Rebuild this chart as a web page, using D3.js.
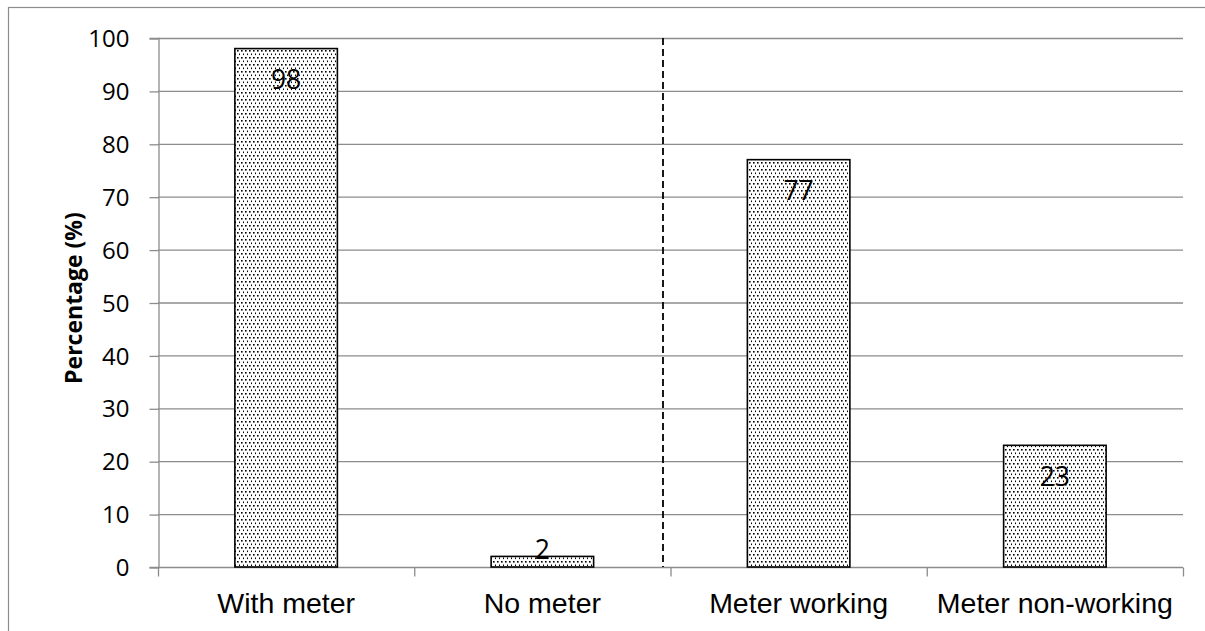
<!DOCTYPE html>
<html>
<head>
<meta charset="utf-8">
<script src="https://cdn.jsdelivr.net/npm/d3@7"></script>
<style>
  html, body { margin: 0; padding: 0; background: #fff; }
  svg { display: block; }
</style>
</head>
<body>
<svg id="chart" width="1205" height="631"></svg>
<script>
// Meter status of surveyed households
const categories = ["With meter", "No meter", "Meter working", "Meter non-working"];
const percentages = [98, 2, 77, 23];
const yTicks = [0, 10, 20, 30, 40, 50, 60, 70, 80, 90, 100];

const W = 1205, H = 631;
const margin = { left: 158, right: 22, top: 38, bottom: 64 };
const svg = d3.select("#chart");

// Outer frame
svg.append("rect")
  .attr("x", 8.5).attr("y", 7.5)
  .attr("width", W + 10).attr("height", H + 10)
  .attr("fill", "none").attr("stroke", "#8c8c8c").attr("stroke-width", 1.2);

const x = d3.scaleBand()
  .domain(categories)
  .range([margin.left, W - margin.right])
  .paddingInner(0.6).paddingOuter(0.3);

const y = d3.scaleLinear()
  .domain([0, 100])
  .range([H - margin.bottom, margin.top]);

// Dotted fill pattern
const defs = svg.append("defs");
const pat = defs.append("pattern")
  .attr("id", "dots").attr("patternUnits", "userSpaceOnUse")
  .attr("width", 4).attr("height", 7);
pat.append("rect").attr("width", 4).attr("height", 7).attr("fill", "#fff");
pat.append("rect").attr("x", 1).attr("y", 1).attr("width", 1.6).attr("height", 1.6).attr("fill", "#000");
pat.append("rect").attr("x", 3).attr("y", 4.5).attr("width", 1.6).attr("height", 1.6).attr("fill", "#000");

// Horizontal gridlines
svg.append("g")
  .selectAll("line").data(yTicks.filter(d => d > 0)).join("line")
  .attr("x1", margin.left).attr("x2", W - margin.right)
  .attr("y1", d => y(d) + 0.5).attr("y2", d => y(d) + 0.5)
  .attr("stroke", "#8c8c8c").attr("stroke-width", 1.3);

// Y axis
const yAxis = svg.append("g")
  .attr("transform", `translate(${margin.left + 0.5},0)`)
  .call(d3.axisLeft(y).tickValues(yTicks).tickSize(9).tickPadding(20));
yAxis.select(".domain").attr("stroke", "#8c8c8c").attr("stroke-width", 1.3);
yAxis.selectAll(".tick line").attr("stroke", "#8c8c8c").attr("stroke-width", 1.3)
  .attr("transform", "translate(0,0.5)");
yAxis.selectAll(".tick text")
  .attr("font-family", "'Open Sans', sans-serif").attr("font-size", 24)
  .attr("fill", "#000").attr("dy", "0.36em");

// X axis line with category boundary ticks
const xAxisY = y(0) + 0.5;
const gx = svg.append("g");
gx.append("line")
  .attr("x1", margin.left).attr("x2", W - margin.right)
  .attr("y1", xAxisY).attr("y2", xAxisY)
  .attr("stroke", "#8c8c8c").attr("stroke-width", 1.3);
const step = x.step();
const boundaries = d3.range(categories.length + 1).map(i => margin.left + i * step);
gx.selectAll("line.tick").data(boundaries).join("line")
  .attr("class", "tick")
  .attr("x1", d => d + 0.5).attr("x2", d => d + 0.5)
  .attr("y1", xAxisY).attr("y2", xAxisY + 9)
  .attr("stroke", "#8c8c8c").attr("stroke-width", 1.3);
gx.selectAll("text").data(categories).join("text")
  .attr("x", d => x(d) + x.bandwidth() / 2)
  .attr("y", xAxisY + 45)
  .attr("text-anchor", "middle")
  .attr("font-family", "'Liberation Sans', Arial, sans-serif")
  .attr("font-size", 28.5).attr("fill", "#000")
  .text(d => d);

// Dashed divider between the two groups
const divX = margin.left + 2 * step - 7.5;
svg.append("line")
  .attr("x1", divX).attr("x2", divX)
  .attr("y1", y(100)).attr("y2", y(0))
  .attr("stroke", "#000").attr("stroke-width", 1.8)
  .attr("stroke-dasharray", "7,4");

// Bars
const data = categories.map((c, i) => ({ cat: c, val: percentages[i] }));
svg.append("g").selectAll("rect").data(data).join("rect")
  .attr("x", d => x(d.cat))
  .attr("y", d => y(d.val))
  .attr("width", x.bandwidth())
  .attr("height", d => y(0) - y(d.val))
  .attr("fill", "url(#dots)")
  .attr("stroke", "#000").attr("stroke-width", 1.6);

// Value labels
svg.append("g").selectAll("text").data(data).join("text")
  .attr("x", d => x(d.cat) + x.bandwidth() / 2)
  .attr("y", d => (y(0) - y(d.val) > 40 ? y(d.val) + 31 : y(d.val) - 7))
  .attr("dy", "0.36em")
  .attr("text-anchor", "middle")
  .attr("font-family", "'Open Sans', sans-serif")
  .attr("font-size", 26.5).attr("fill", "#000")
  .text(d => d.val);

// Y axis title
svg.append("text")
  .attr("transform", `translate(82, 298) rotate(-90)`)
  .attr("text-anchor", "middle")
  .attr("font-family", "'Open Sans', sans-serif")
  .attr("font-weight", "bold").attr("font-size", 23).attr("fill", "#000")
  .text("Percentage (%)");
</script>
</body>
</html>
